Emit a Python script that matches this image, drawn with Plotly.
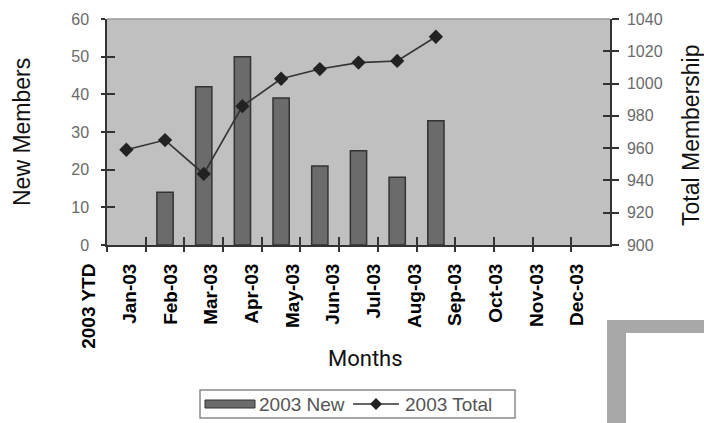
import plotly.graph_objects as go

# Monthly membership figures for 2003
months = ["2003 YTD", "Jan-03", "Feb-03", "Mar-03", "Apr-03", "May-03", "Jun-03",
          "Jul-03", "Aug-03", "Sep-03", "Oct-03", "Nov-03", "Dec-03"]
new_members = [None, None, 14, 42, 50, 39, 21, 25, 18, 33, None, None, None]
total_members = [None, 959, 965, 944, 986, 1003, 1009, 1013, 1014, 1029, None, None, None]

left_ticks = [0, 10, 20, 30, 40, 50, 60]
right_ticks = [900, 920, 940, 960, 980, 1000, 1020, 1040]

series_names = ["2003 New", "2003 Total"]

W, H = 704, 423
ML, MR, MT, MB = 60, 94, 19, 178
PW, PH = W - ML - MR, H - MT - MB


def px(x):
    return (x - ML) / PW


def py(y):
    return (H - MB - y) / PH


AXIS = "#333333"
BAR_FILL, BAR_EDGE = "#6b6b6b", "#333333"
LINE_COL, MARK_COL = "#333333", "#222222"
SANS = "Liberation Sans, Arial, sans-serif"
TICKFONT = dict(family=SANS, size=16, color="#6a6a6a")

fig = go.Figure()

fig.add_trace(go.Bar(
    x=months, y=new_members, name=series_names[0],
    marker=dict(color=BAR_FILL, line=dict(color=BAR_EDGE, width=1.5)),
    width=0.42, xaxis="x", yaxis="y",
))
fig.add_trace(go.Scatter(
    x=months, y=total_members, name=series_names[1], mode="lines+markers",
    line=dict(color=LINE_COL, width=1.6),
    marker=dict(symbol="diamond", size=11, color=MARK_COL),
    xaxis="x", yaxis="y2", connectgaps=False,
))

# invisible helpers so the overlay axes (inner tick halves, month labels) get drawn
fig.add_trace(go.Scatter(x=[months[1]], y=[0], xaxis="x3", yaxis="y3", mode="markers",
                         marker=dict(opacity=0), showlegend=False, hoverinfo="skip"))
fig.add_trace(go.Scatter(x=[months[1]], y=[900], xaxis="x", yaxis="y4", mode="markers",
                         marker=dict(opacity=0), showlegend=False, hoverinfo="skip"))
fig.add_trace(go.Scatter(x=[0], y=[0], xaxis="x2", yaxis="y", mode="markers",
                         marker=dict(opacity=0), showlegend=False, hoverinfo="skip"))

main_dom = [px(107), 1.0]

fig.update_layout(
    width=W, height=H,
    margin=dict(l=ML, r=MR, t=MT, b=MB, pad=0),
    paper_bgcolor="white",
    plot_bgcolor="rgba(0,0,0,0)",
    showlegend=False,
    xaxis=dict(
        domain=main_dom, type="category", categoryorder="array", categoryarray=months,
        range=[0.5, 13.5], tickson="boundaries", ticks="outside", ticklen=5,
        tickcolor=AXIS, tickwidth=1.5, showticklabels=False,
        showline=True, linecolor=AXIS, linewidth=1.5, showgrid=False, zeroline=False,
        anchor="y", fixedrange=True,
    ),
    xaxis3=dict(
        domain=main_dom, type="category", categoryorder="array", categoryarray=months,
        overlaying="x", matches="x", tickson="boundaries", ticks="inside", ticklen=8,
        tickcolor=AXIS, tickwidth=1.5, showticklabels=False, showline=False,
        showgrid=False, zeroline=False, anchor="y3",
    ),
    # month labels
    xaxis2=dict(
        domain=[px(68.7), px(597.4)], range=[-0.5, 12.5], tickmode="array",
        tickvals=list(range(len(months))), ticktext=months, tickangle=-90,
        ticks="outside", ticklen=10, tickcolor="rgba(0,0,0,0)",
        tickfont=dict(family=SANS, size=19, color="#000000", weight="bold"),
        showline=False, showgrid=False, zeroline=False, anchor="y",
    ),
    yaxis=dict(
        domain=[0, 1], range=[0, 60], tickvals=left_ticks, ticks="outside", ticklen=4,
        tickcolor=AXIS, tickwidth=1.5, tickfont=TICKFONT, ticklabelstandoff=9,
        showline=True, linecolor=AXIS, linewidth=1.5, showgrid=False, zeroline=False,
        anchor="x",
    ),
    yaxis3=dict(
        range=[0, 60], matches="y", overlaying="y", tickvals=left_ticks, ticks="inside",
        ticklen=8, tickcolor=AXIS, tickwidth=1.5, showticklabels=False, showline=False,
        showgrid=False, zeroline=False, anchor="x3", side="left",
    ),
    yaxis2=dict(
        range=[900, 1040], tickvals=right_ticks, overlaying="y", side="right",
        ticks="outside", ticklen=7, tickcolor=AXIS, tickwidth=1.5, tickfont=TICKFONT,
        ticklabelstandoff=5, showline=True, linecolor=AXIS, linewidth=1.5,
        showgrid=False, zeroline=False, anchor="x",
    ),
    yaxis4=dict(
        range=[900, 1040], matches="y2", overlaying="y", side="right", tickvals=right_ticks,
        ticks="inside", ticklen=7, tickcolor=AXIS, tickwidth=1.5, showticklabels=False,
        showline=False, showgrid=False, zeroline=False, anchor="x",
    ),
)

# plot-area fill, kept under the marks
fig.add_shape(type="rect", xref="paper", yref="paper", x0=main_dom[0], x1=1, y0=0, y1=1,
              fillcolor="#c0c0c0", line=dict(width=0), layer="below")
# top border of the plot area
fig.add_shape(type="line", xref="paper", yref="paper", x0=main_dom[0], x1=1, y0=1, y1=1,
              line=dict(color="#9a9a9a", width=1.5))

TITLEFONT = dict(family=SANS, size=23, color="#111111")
fig.add_annotation(text="New Members", xref="paper", yref="paper", x=px(22), y=py(132),
                   xanchor="center", yanchor="middle",
                   textangle=-90, showarrow=False, font=TITLEFONT)
fig.add_annotation(text="Total Membership", xref="paper", yref="paper", x=px(691), y=py(135),
                   xanchor="center", yanchor="middle",
                   textangle=-90, showarrow=False, font=TITLEFONT)
fig.add_annotation(text="Months", xref="paper", yref="paper", x=px(365), y=py(358),
                   xanchor="center", yanchor="middle", showarrow=False,
                   font=dict(family="Roboto, sans-serif", size=22, color="#111111"))

# legend box below the chart: bar swatch, line-with-diamond swatch and labels
LEG_Y = 404
LEGFONT = dict(family=SANS, size=19, color="#555555")
fig.add_shape(type="rect", xref="paper", yref="paper", x0=px(200), x1=px(515),
              y0=py(390), y1=py(418), fillcolor="white",
              line=dict(color="#8a8a8a", width=1.5))
fig.add_shape(type="rect", xref="paper", yref="paper", x0=px(205), x1=px(255),
              y0=py(LEG_Y - 4), y1=py(LEG_Y + 4), fillcolor=BAR_FILL,
              line=dict(color=BAR_EDGE, width=1))
fig.add_annotation(text=series_names[0], xref="paper", yref="paper", x=px(257), y=py(LEG_Y),
                   xanchor="left", yanchor="middle", showarrow=False, font=LEGFONT)
fig.add_shape(type="line", xref="paper", yref="paper", x0=px(353), x1=px(399),
              y0=py(LEG_Y), y1=py(LEG_Y), line=dict(color=LINE_COL, width=1.5))
fig.add_shape(type="path", xref="paper", yref="paper",
              path=(f"M {px(376)},{py(LEG_Y - 6)} L {px(382)},{py(LEG_Y)} "
                    f"L {px(376)},{py(LEG_Y + 6)} L {px(370)},{py(LEG_Y)} Z"),
              fillcolor=MARK_COL, line=dict(width=0))
fig.add_annotation(text=series_names[1], xref="paper", yref="paper", x=px(403), y=py(LEG_Y),
                   xanchor="left", yanchor="middle", showarrow=False, font=LEGFONT)

# corner bracket decoration
fig.add_shape(type="rect", xref="paper", yref="paper", x0=px(607), x1=px(704), y0=py(320),
              y1=py(423), fillcolor="#a8a8a8", line=dict(width=0), layer="above")
fig.add_shape(type="rect", xref="paper", yref="paper", x0=px(626), x1=px(704), y0=py(333),
              y1=py(423), fillcolor="white", line=dict(width=0), layer="above")

fig.write_html("out.html")
